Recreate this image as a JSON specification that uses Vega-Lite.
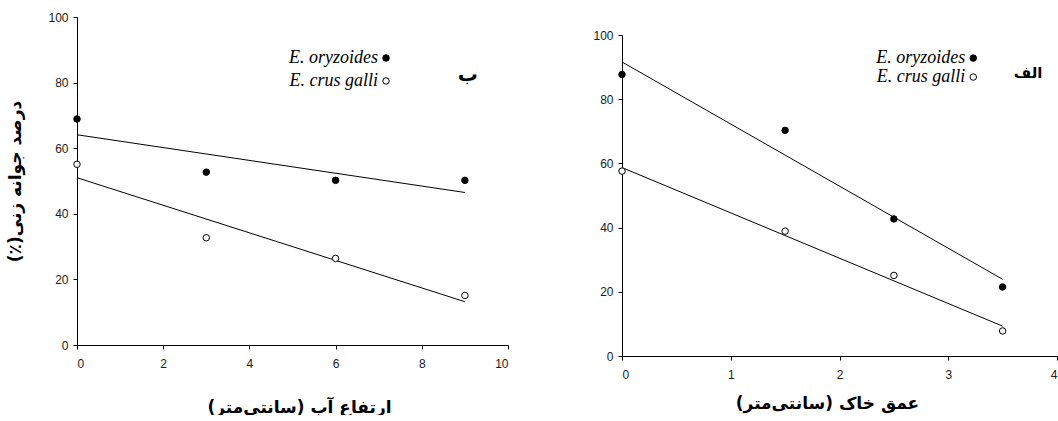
{
  "$schema": "https://vega.github.io/schema/vega-lite/v6.json",
  "padding": {"left": 6, "top": 11, "right": 0, "bottom": 0},
  "background": "white",
  "spacing": 83,
  "config": {
    "view": {"stroke": null},
    "axis": {
      "grid": false,
      "domainColor": "#000",
      "domainWidth": 1,
      "tickColor": "#000",
      "tickSize": 4,
      "labelColor": "#1a1a1a",
      "labelFont": "Liberation Sans",
      "labelFontSize": 12,
      "titleFont": "DejaVu Sans",
      "titleFontWeight": "bold",
      "titleFontSize": 17,
      "titleColor": "#000"
    },
    "axisX": {"labelPadding": 9},
    "axisY": {"labelPadding": 5}
  },
  "datasets": {
    "waterPts": [
      {"x": 0, "y": 68.9, "species": "E. oryzoides"},
      {"x": 3, "y": 52.7, "species": "E. oryzoides"},
      {"x": 6, "y": 50.2, "species": "E. oryzoides"},
      {"x": 9, "y": 50.2, "species": "E. oryzoides"},
      {"x": 0, "y": 55.1, "species": "E. crus galli"},
      {"x": 3, "y": 32.7, "species": "E. crus galli"},
      {"x": 6, "y": 26.4, "species": "E. crus galli"},
      {"x": 9, "y": 15.1, "species": "E. crus galli"}
    ],
    "waterFit": [
      {"x": 0, "y": 64.1, "species": "E. oryzoides"},
      {"x": 9, "y": 46.5, "species": "E. oryzoides"},
      {"x": 0, "y": 51.0, "species": "E. crus galli"},
      {"x": 9, "y": 13.2, "species": "E. crus galli"}
    ],
    "waterLegend": [
      {"x": 7.17, "y": 87.5, "species": "E. oryzoides"},
      {"x": 7.17, "y": 80.5, "species": "E. crus galli"}
    ],
    "waterTag": [{"x": 9.07, "y": 82.3, "tag": "ب"}],
    "soilPts": [
      {"x": 0, "y": 87.7, "species": "E. oryzoides"},
      {"x": 1.5, "y": 70.3, "species": "E. oryzoides"},
      {"x": 2.5, "y": 42.7, "species": "E. oryzoides"},
      {"x": 3.5, "y": 21.5, "species": "E. oryzoides"},
      {"x": 0, "y": 57.6, "species": "E. crus galli"},
      {"x": 1.5, "y": 38.9, "species": "E. crus galli"},
      {"x": 2.5, "y": 25.1, "species": "E. crus galli"},
      {"x": 3.5, "y": 7.8, "species": "E. crus galli"}
    ],
    "soilFit": [
      {"x": 0, "y": 91.6, "species": "E. oryzoides"},
      {"x": 3.5, "y": 23.9, "species": "E. oryzoides"},
      {"x": 0, "y": 58.7, "species": "E. crus galli"},
      {"x": 3.5, "y": 9.3, "species": "E. crus galli"}
    ],
    "soilLegend": [
      {"x": 3.23, "y": 92.8, "species": "E. oryzoides"},
      {"x": 3.23, "y": 86.9, "species": "E. crus galli"}
    ],
    "soilTag": [{"x": 3.735, "y": 88.2, "tag": "الف"}],
    "blank": [{"t": ""}]
  },
  "hconcat": [
    {
      "width": 431,
      "height": 328,
      "layer": [
        {
          "data": {"name": "waterFit"},
          "mark": {"type": "line", "color": "#000", "strokeWidth": 1},
          "encoding": {
            "x": {"field": "x", "type": "quantitative", "scale": {"domain": [0, 10], "nice": false},
              "axis": {"values": [0, 2, 4, 6, 8, 10], "format": "d", "title": "ارتفاع آب (سانتی‌متر)‏", "titlePadding": 30, "titleX": 222}},
            "y": {"field": "y", "type": "quantitative", "scale": {"domain": [0, 100], "nice": false},
              "axis": {"values": [0, 20, 40, 60, 80, 100], "title": "درصد  جوانه زنی(٪)‏", "titlePadding": 23}},
            "detail": {"field": "species"}
          }
        },
        {
          "data": {"name": "waterPts"},
          "mark": {"type": "point", "shape": "circle", "filled": true, "size": 42, "stroke": "#000", "strokeWidth": 1, "opacity": 1},
          "encoding": {
            "x": {"field": "x", "type": "quantitative"},
            "y": {"field": "y", "type": "quantitative"},
            "fill": {"field": "species", "type": "nominal", "scale": {"domain": ["E. oryzoides", "E. crus galli"], "range": ["#000", "#fff"]}, "legend": null}
          }
        },
        {
          "data": {"name": "waterLegend"},
          "mark": {"type": "point", "shape": "circle", "filled": true, "size": 42, "stroke": "#000", "strokeWidth": 1, "opacity": 1},
          "encoding": {
            "x": {"field": "x", "type": "quantitative"},
            "y": {"field": "y", "type": "quantitative"},
            "fill": {"field": "species", "type": "nominal", "scale": {"domain": ["E. oryzoides", "E. crus galli"], "range": ["#000", "#fff"]}, "legend": null}
          }
        },
        {
          "data": {"name": "waterLegend"},
          "mark": {"type": "text", "align": "right", "baseline": "middle", "dx": -8, "font": "Liberation Serif", "fontStyle": "italic", "fontSize": 18, "color": "#000"},
          "encoding": {
            "x": {"field": "x", "type": "quantitative"},
            "y": {"field": "y", "type": "quantitative"},
            "text": {"field": "species"}
          }
        },
        {
          "data": {"name": "waterTag"},
          "mark": {"type": "text", "align": "center", "baseline": "middle", "font": "DejaVu Sans", "fontWeight": "bold", "fontSize": 20, "color": "#000"},
          "encoding": {
            "x": {"field": "x", "type": "quantitative"},
            "y": {"field": "y", "type": "quantitative"},
            "text": {"field": "tag"}
          }
        }
      ]
    },
    {
      "spacing": 0,
      "vconcat": [
        {
          "width": 435,
          "height": 12,
          "data": {"name": "blank"},
          "mark": {"type": "text", "opacity": 0},
          "encoding": {"text": {"field": "t"}}
        },
        {
          "width": 435,
          "height": 321,
          "layer": [
            {
              "data": {"name": "soilFit"},
              "mark": {"type": "line", "color": "#000", "strokeWidth": 1},
              "encoding": {
                "x": {"field": "x", "type": "quantitative", "scale": {"domain": [0, 4], "nice": false},
                  "axis": {"values": [0, 1, 2, 3, 4], "format": "d", "title": "عمق خاک (سانتی‌متر)‏", "titlePadding": 15, "titleX": 205}},
                "y": {"field": "y", "type": "quantitative", "scale": {"domain": [0, 100], "nice": false},
                  "axis": {"values": [0, 20, 40, 60, 80, 100], "title": null}},
                "detail": {"field": "species"}
              }
            },
            {
              "data": {"name": "soilPts"},
              "mark": {"type": "point", "shape": "circle", "filled": true, "size": 42, "stroke": "#000", "strokeWidth": 1, "opacity": 1},
              "encoding": {
                "x": {"field": "x", "type": "quantitative"},
                "y": {"field": "y", "type": "quantitative"},
                "fill": {"field": "species", "type": "nominal", "scale": {"domain": ["E. oryzoides", "E. crus galli"], "range": ["#000", "#fff"]}, "legend": null}
              }
            },
            {
              "data": {"name": "soilLegend"},
              "mark": {"type": "point", "shape": "circle", "filled": true, "size": 42, "stroke": "#000", "strokeWidth": 1, "opacity": 1},
              "encoding": {
                "x": {"field": "x", "type": "quantitative"},
                "y": {"field": "y", "type": "quantitative"},
                "fill": {"field": "species", "type": "nominal", "scale": {"domain": ["E. oryzoides", "E. crus galli"], "range": ["#000", "#fff"]}, "legend": null}
              }
            },
            {
              "data": {"name": "soilLegend"},
              "mark": {"type": "text", "align": "right", "baseline": "middle", "dx": -8, "font": "Liberation Serif", "fontStyle": "italic", "fontSize": 18, "color": "#000"},
              "encoding": {
                "x": {"field": "x", "type": "quantitative"},
                "y": {"field": "y", "type": "quantitative"},
                "text": {"field": "species"}
              }
            },
            {
              "data": {"name": "soilTag"},
              "mark": {"type": "text", "align": "center", "baseline": "middle", "font": "DejaVu Sans", "fontWeight": "bold", "fontSize": 15, "color": "#000"},
              "encoding": {
                "x": {"field": "x", "type": "quantitative"},
                "y": {"field": "y", "type": "quantitative"},
                "text": {"field": "tag"}
              }
            }
          ]
        }
      ]
    }
  ]
}
